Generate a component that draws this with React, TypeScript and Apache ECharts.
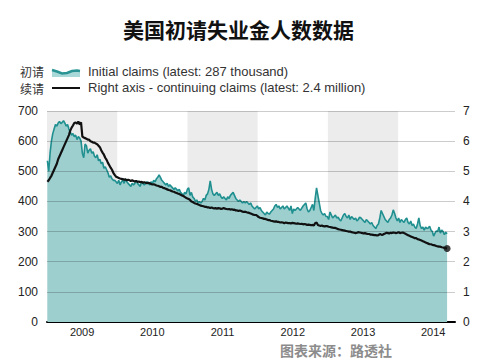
import React, { useEffect, useRef } from "react";
import * as echarts from "echarts";

// Weekly initial jobless claims (thousands)
const initial2009 = [535, 500, 560, 600, 625, 640, 655, 650, 660, 665, 658, 662, 668, 660, 650, 655, 640, 630, 620, 625, 615, 620, 605, 615, 610, 600, 560, 545, 590, 585, 560, 570, 575, 560, 565, 550, 545, 555, 535, 540, 525, 530, 510, 515, 505, 495, 480, 485, 475, 470, 470, 465];
const initial2010 = [460, 470, 455, 465, 470, 460, 475, 465, 460, 455, 450, 460, 455, 460, 470, 460, 455, 450, 465, 460, 455, 460, 465, 460, 455, 465, 460, 470, 465, 475, 480, 488, 480, 470, 465, 460, 455, 460, 450, 455, 450, 445, 440, 445, 440, 435, 440, 430, 425, 420, 430, 425];
const initial2011 = [440, 445, 420, 430, 415, 410, 400, 405, 395, 400, 395, 400, 410, 405, 420, 425, 440, 468, 440, 425, 420, 425, 430, 420, 425, 415, 410, 415, 410, 405, 415, 410, 420, 425, 430, 420, 410, 405, 400, 405, 400, 395, 400, 395, 400, 395, 390, 395, 385, 380, 375, 380];
const initial2012 = [385, 375, 380, 370, 365, 360, 355, 365, 360, 358, 365, 370, 375, 385, 390, 380, 385, 375, 380, 385, 375, 380, 385, 378, 370, 385, 360, 375, 370, 375, 380, 375, 370, 378, 385, 390, 395, 375, 365, 370, 380, 390, 370, 410, 445, 420, 395, 370, 360, 355, 360, 350];
const initial2013 = [350, 340, 365, 355, 345, 350, 355, 345, 348, 340, 335, 345, 355, 360, 350, 345, 355, 340, 350, 345, 340, 345, 335, 340, 348, 345, 340, 335, 330, 340, 335, 330, 325, 330, 320, 315, 310, 320, 325, 345, 370, 360, 350, 340, 335, 330, 340, 345, 355, 372, 360, 345];
const initial2014 = [335, 345, 330, 340, 335, 330, 340, 345, 330, 325, 335, 320, 325, 315, 310, 325, 345, 320, 310, 315, 305, 315, 310, 312, 318, 305, 300, 285, 295, 302, 300, 315, 295, 305, 300, 290, 298, 293];

// Weekly continuing claims (millions), right axis
const cont2009 = [4.65, 4.70, 4.78, 4.85, 4.95, 5.05, 5.15, 5.25, 5.40, 5.50, 5.60, 5.70, 5.80, 5.90, 6.00, 6.10, 6.20, 6.35, 6.45, 6.52, 6.60, 6.62, 6.58, 6.65, 6.55, 6.62, 6.15, 6.12, 6.10, 6.08, 6.05, 6.05, 6.00, 5.98, 5.95, 5.95, 5.92, 5.90, 5.85, 5.80, 5.70, 5.62, 5.55, 5.45, 5.38, 5.28, 5.20, 5.12, 5.05, 4.95, 4.88, 4.82];
const cont2010 = [4.80, 4.78, 4.76, 4.75, 4.74, 4.72, 4.73, 4.70, 4.72, 4.70, 4.68, 4.70, 4.68, 4.66, 4.68, 4.65, 4.66, 4.64, 4.65, 4.62, 4.64, 4.62, 4.60, 4.62, 4.60, 4.58, 4.56, 4.57, 4.55, 4.53, 4.52, 4.50, 4.48, 4.48, 4.45, 4.44, 4.42, 4.40, 4.38, 4.37, 4.35, 4.33, 4.32, 4.30, 4.28, 4.26, 4.25, 4.22, 4.20, 4.18, 4.15, 4.12];
const cont2011 = [4.10, 4.08, 4.05, 4.00, 3.98, 3.95, 3.93, 3.92, 3.90, 3.88, 3.86, 3.85, 3.84, 3.82, 3.82, 3.80, 3.80, 3.78, 3.80, 3.78, 3.77, 3.78, 3.76, 3.78, 3.77, 3.75, 3.76, 3.78, 3.76, 3.75, 3.74, 3.75, 3.73, 3.74, 3.72, 3.73, 3.70, 3.70, 3.68, 3.70, 3.68, 3.66, 3.65, 3.66, 3.64, 3.63, 3.62, 3.60, 3.58, 3.56, 3.55, 3.55];
const cont2012 = [3.52, 3.48, 3.46, 3.45, 3.44, 3.42, 3.42, 3.40, 3.38, 3.38, 3.36, 3.35, 3.34, 3.33, 3.34, 3.32, 3.32, 3.30, 3.31, 3.30, 3.28, 3.30, 3.29, 3.28, 3.28, 3.27, 3.29, 3.28, 3.27, 3.26, 3.27, 3.26, 3.25, 3.26, 3.24, 3.25, 3.24, 3.22, 3.23, 3.22, 3.21, 3.22, 3.20, 3.28, 3.30, 3.22, 3.20, 3.19, 3.20, 3.18, 3.17, 3.18];
const cont2013 = [3.18, 3.16, 3.15, 3.14, 3.13, 3.12, 3.12, 3.10, 3.08, 3.07, 3.06, 3.05, 3.04, 3.03, 3.02, 3.01, 3.00, 3.00, 2.98, 2.97, 2.96, 2.95, 2.96, 2.98, 2.97, 2.96, 2.95, 2.94, 2.95, 2.93, 2.92, 2.92, 2.90, 2.90, 2.89, 2.88, 2.88, 2.87, 2.88, 2.92, 2.90, 2.89, 2.92, 2.94, 2.96, 2.95, 2.94, 2.96, 2.95, 2.97, 2.96, 2.95];
const cont2014 = [2.96, 2.98, 2.95, 2.96, 2.97, 2.95, 2.93, 2.90, 2.88, 2.86, 2.84, 2.82, 2.80, 2.78, 2.78, 2.75, 2.74, 2.72, 2.70, 2.68, 2.66, 2.64, 2.62, 2.60, 2.58, 2.58, 2.56, 2.55, 2.54, 2.52, 2.51, 2.50, 2.50, 2.48, 2.47, 2.46, 2.45, 2.44];

const shadedYears = [2009, 2011, 2013];
const leftTicks = [100, 200, 300, 400, 500, 600, 700];

const TITLE = "美国初请失业金人数数据";
const LEGEND_INITIAL = "Initial claims (latest: 287 thousand)";
const LEGEND_CONT = "Right axis - continuing claims (latest: 2.4 million)";
const SOURCE = "图表来源：路透社";

// First week ends 3 Jan 2009; x position in fractional years
const FIRST_WEEK = 2009 + 2 / 365.25;
const weekX = (i: number) => FIRST_WEEK + (i * 7) / 365.25;

const initialAll = [...initial2009, ...initial2010, ...initial2011, ...initial2012, ...initial2013, ...initial2014];
const contAll = [...cont2009, ...cont2010, ...cont2011, ...cont2012, ...cont2013, ...cont2014];

export default function App() {
  const ref = useRef<HTMLDivElement>(null);
  useEffect(() => {
    if (!ref.current) return;
    const chart = echarts.init(ref.current, undefined, { renderer: "svg" });
    const initialData = initialAll.map((v, i) => [weekX(i), v]);
    const contData = contAll.map((v, i) => [weekX(i), v]);
    const last = contData[contData.length - 1];
    const latin = "'Liberation Sans', Arial, sans-serif";
    const cjk = "'Noto Sans CJK SC', sans-serif";

    chart.setOption({
      animation: false,
      backgroundColor: "#ffffff",
      grid: { left: 47, right: 45, top: 111, bottom: 40 },
      xAxis: {
        type: "value",
        min: 2009,
        max: 2014.81,
        interval: 0.5,
        axisLine: { show: true, onZero: false, lineStyle: { color: "#000", width: 2 } },
        axisTick: { show: false },
        splitLine: { show: false },
        axisLabel: {
          color: "#222",
          fontFamily: latin,
          fontSize: 11,
          margin: 4,
          formatter: (v: number) =>
            Math.abs(v - Math.floor(v) - 0.5) < 0.01 ? String(Math.floor(v)) : "",
        },
      },
      yAxis: [
        {
          type: "value",
          min: 0,
          max: 700,
          interval: 100,
          axisLine: { show: false },
          axisTick: { show: false },
          splitLine: { show: false },
          axisLabel: { color: "#222", fontFamily: latin, fontSize: 12, margin: 9 },
        },
        {
          type: "value",
          min: 0,
          max: 7,
          interval: 1,
          position: "right",
          axisLine: { show: false },
          axisTick: { show: false },
          splitLine: { show: false },
          axisLabel: { color: "#222", fontFamily: latin, fontSize: 12, margin: 8 },
        },
      ],
      title: {
        text: TITLE,
        left: 118,
        top: 13,
        textStyle: { fontFamily: cjk, fontSize: 21, fontWeight: "bold", color: "#111" },
      },
      graphic: [
        { type: "text", left: 20, top: 65, style: { text: "初请", fontFamily: cjk, fontSize: 12, fill: "#333" } },
        {
          type: "polygon",
          shape: { points: [[52, 70], [57, 71.5], [62, 73.5], [67, 73], [72, 71], [77, 70.5], [80, 71], [80, 77], [52, 77]] },
          style: { fill: "#a9d8d8" },
        },
        {
          type: "polyline",
          shape: { points: [[52, 70], [57, 71.5], [62, 73.5], [67, 73], [72, 71], [77, 70.5], [80, 71]] },
          style: { stroke: "#2a9494", lineWidth: 2.5, fill: null },
        },
        { type: "text", left: 88, top: 65, style: { text: LEGEND_INITIAL, fontFamily: latin, fontSize: 13, fill: "#333" } },
        { type: "text", left: 20, top: 82, style: { text: "续请", fontFamily: cjk, fontSize: 12, fill: "#333" } },
        { type: "line", shape: { x1: 52, y1: 88, x2: 80, y2: 88 }, style: { stroke: "#111", lineWidth: 2 } },
        { type: "text", left: 88, top: 81, style: { text: LEGEND_CONT, fontFamily: latin, fontSize: 13, fill: "#333" } },
        { type: "text", left: 280, top: 343, style: { text: SOURCE, fontFamily: cjk, fontSize: 14, fontWeight: "bold", fill: "#8c8c8c" } },
      ],
      series: [
        {
          name: "initial-area",
          type: "line",
          data: initialData,
          symbol: "none",
          z: 1,
          lineStyle: { width: 0, opacity: 0 },
          areaStyle: { color: "#9dcfcf", opacity: 1 },
          silent: true,
        },
        {
          name: "bands",
          type: "line",
          data: initialData,
          symbol: "none",
          z: 2,
          lineStyle: { opacity: 0 },
          silent: true,
          markArea: {
            silent: true,
            itemStyle: { color: "rgba(0,0,0,0.075)" },
            data: shadedYears.map((y) => [{ xAxis: y }, { xAxis: y + 1 }]),
          },
          markLine: {
            silent: true,
            symbol: "none",
            label: { show: false },
            lineStyle: { color: "rgba(0,0,0,0.2)", type: "solid", width: 1 },
            data: leftTicks.map((t) => ({ yAxis: t })),
          },
        },
        {
          name: "Initial claims",
          type: "line",
          data: initialData,
          symbol: "none",
          z: 3,
          lineStyle: { color: "#1f8f8f", width: 1.6 },
        },
        {
          name: "Continuing claims",
          type: "line",
          yAxisIndex: 1,
          data: contData,
          symbol: "none",
          z: 4,
          lineStyle: { color: "#111", width: 2.2 },
        },
        {
          name: "latest",
          type: "scatter",
          yAxisIndex: 1,
          data: [last],
          symbol: "circle",
          symbolSize: 7,
          z: 5,
          itemStyle: { color: "#111" },
        },
      ],
    });
    return () => chart.dispose();
  }, []);
  return (
    <div
      ref={ref}
      style={{ position: "absolute", left: 0, top: 0, width: 500, height: 362 }}
    />
  );
}
